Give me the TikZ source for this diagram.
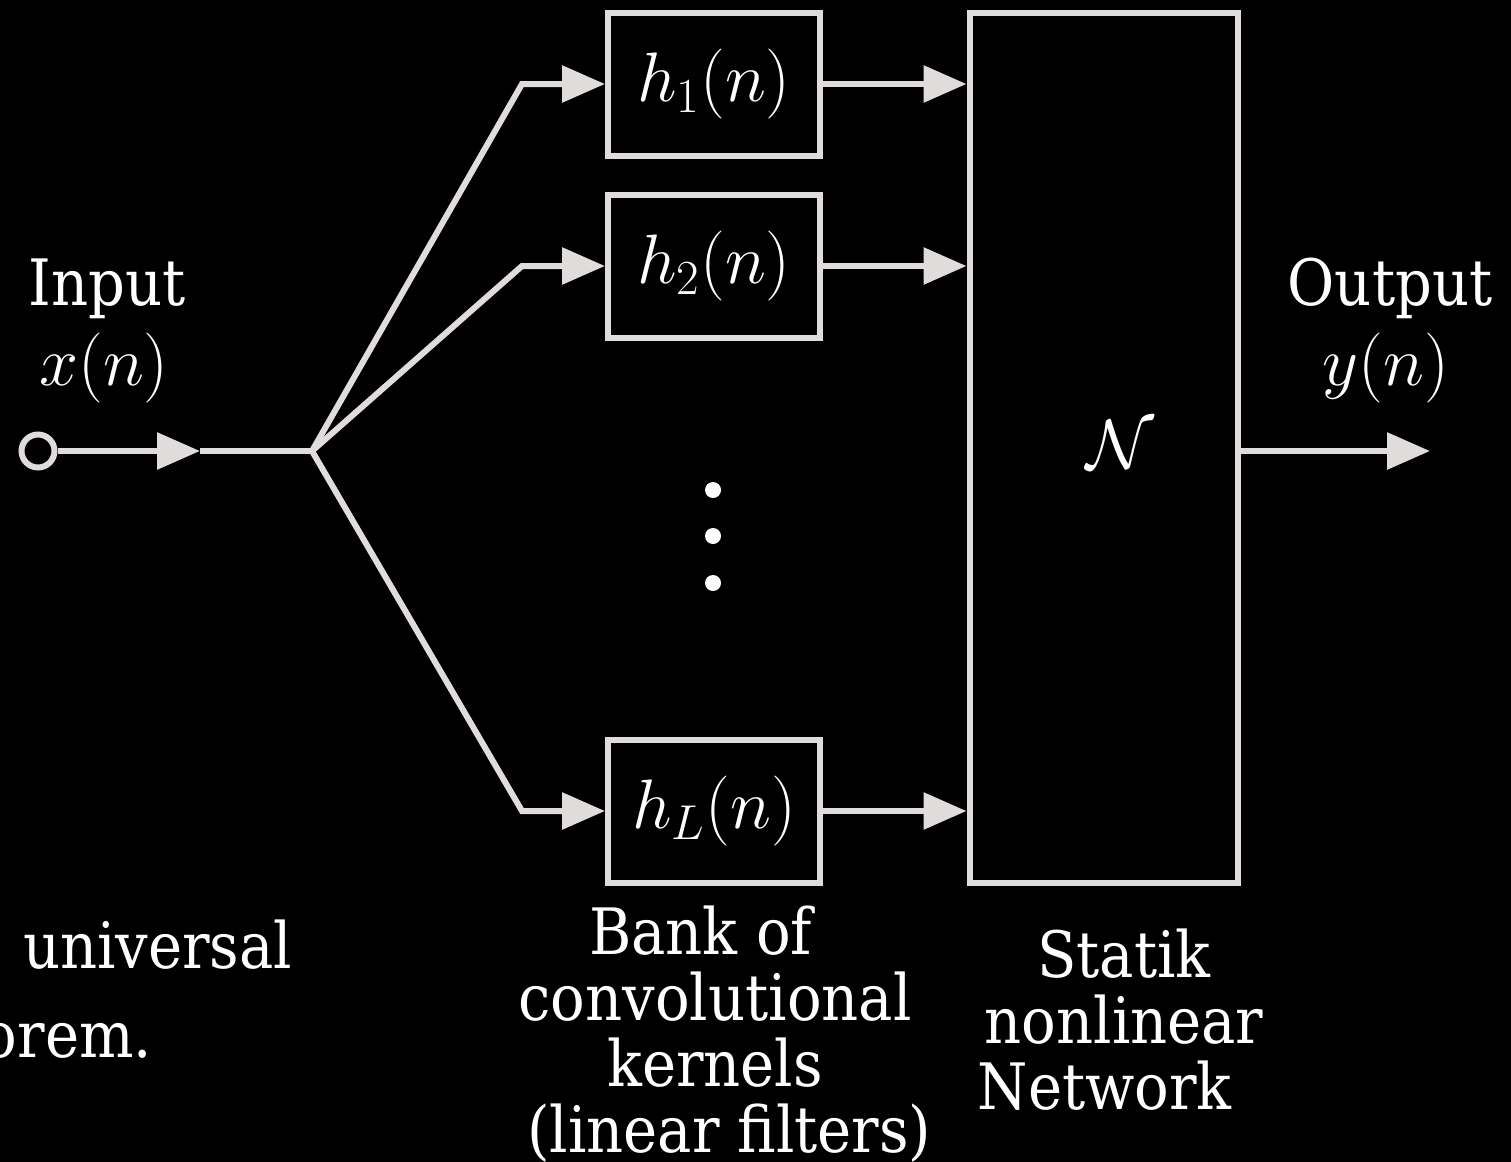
\RequirePackage{fix-cm}
\documentclass[tikz,border=0pt]{standalone}
\usepackage{amsmath,amssymb}
\usepackage{fontspec}
\setmainfont{DejaVu Serif Condensed}
\usepackage{tikz}
\usetikzlibrary{arrows.meta,positioning,calc}
\usepackage{xcolor}
\definecolor{wire}{RGB}{224,220,220}

\begin{document}
\begin{tikzpicture}[x=0.5pt,y=-0.5pt,line width=3pt,draw=wire,
  font=\fontsize{32}{33}\selectfont,
  tip/.style={-{Triangle[length=21.5pt,width=18pt]}},
  filt/.style={draw=wire,text=white,minimum width=106pt,minimum height=71.5pt,inner sep=0pt,
    font=\fontsize{35}{35}\selectfont},
  lbl/.style={text=white,inner sep=0pt},
  mlbl/.style={lbl,font=\fontsize{35}{35}\selectfont}]
  \useasboundingbox (0,0) rectangle (1511,1162);
  \clip (0,0) rectangle (1511,1162);
  \fill[black] (0,0) rectangle (1511,1162);

  % Eingang
  \node[draw=wire,circle,minimum size=16.5pt,inner sep=0pt] (in) at (38,451) {};
  \coordinate (m) at (200,451);
  \coordinate (br) at (312,451);
  \draw[tip] (in.east) -- (m);
  \draw (m) -- (br);
  \node[lbl,anchor=base] (inl) at (107,305) {Input};
  \node[mlbl,anchor=base] (xl) at (104,385) {$x(n)$};

  % Filterbank
  \node[filt] (h1) at (714,84) {$h_1(n)$};
  \node[filt] (h2) at (714,266) {$h_2(n)$};
  \node[filt] (hL) at (714,811) {$h_L(n)$};
  \coordinate (b1) at (522,84);
  \coordinate (b2) at (522,266);
  \coordinate (bL) at (522,811);
  \draw[tip] (br) -- (b1) -- (h1.west);
  \draw[tip] (br) -- (b2) -- (h2.west);
  \draw[tip] (br) -- (bL) -- (hL.west);
  \foreach \y [count=\i] in {490,536,583}
    \fill[white] (713,\y) circle (4pt) coordinate (d\i);

  % Netzwerk
  \node[draw=wire,minimum width=134pt,minimum height=435pt,inner sep=0pt] (net) at (1103.5,447.5) {};
  \node[mlbl] (nl) at (1120,445) {$\mathcal{N}$};
  \foreach \h in {h1,h2,hL}
    \draw[tip] (\h.east) -- (\h.east -| net.west);

  % Ausgang
  \coordinate (out) at (1430,451);
  \draw[tip] (out -| net.east) -- (out);
  \node[lbl,anchor=base] (outl) at (1390,305) {Output};
  \node[mlbl,anchor=base] (yl) at (1386,385) {$y(n)$};

  % Beschriftungen unten
  \node[lbl,align=center,anchor=north] (bank) at (715,903)
    {Bank of\hspace*{0.45em}\\convolutional\\kernels\hspace*{0.45em}\\\hspace*{0.45em}(linear filters)};
  \node[lbl,align=center,anchor=north] (stat) at (1124,926)
    {Statik\\nonlinear\\Network\hspace*{0.6em}};
  \node[lbl,anchor=base east] (uni) at (295,968) {universal};
  \node[lbl,anchor=base east] (thm) at (155,1057) {theorem.};
\end{tikzpicture}
\end{document}
